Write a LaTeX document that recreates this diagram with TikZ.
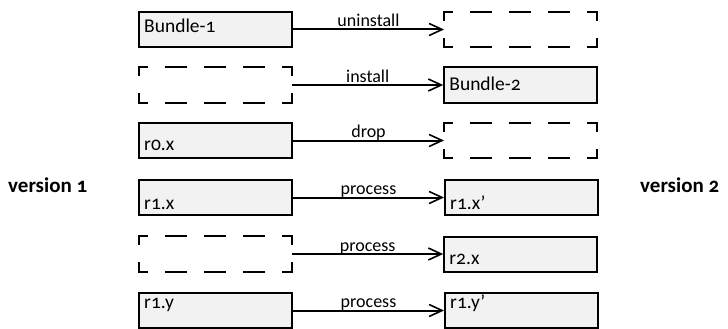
\documentclass[tikz,border=0pt]{standalone}
\usepackage{fontspec}
\setmainfont{Carlito}[Numbers=OldStyle]
\usetikzlibrary{positioning, arrows.meta}

% the four dashed sides of an empty slot
\newcommand{\slotsides}[1]{%
  \draw[slotline] (#1.north west) -- (#1.north east);
  \draw[slotline] (#1.south west) -- (#1.south east);
  \draw[slotline] (#1.north west) -- (#1.south west);
  \draw[slotline] (#1.north east) -- (#1.south east);}

\begin{document}
\begin{tikzpicture}[
        x=1pt, y=-1pt,
        % Define common styles for the boxes and text
        node distance=151pt,
        box/.style={draw, rectangle, line width=2pt, fill=black!5, minimum width=153pt, minimum height=35pt, inner sep=0pt},
        slot/.style={rectangle, minimum width=153pt, minimum height=35pt, inner sep=0pt},
        slotline/.style={line width=2pt, line cap=rect, dash pattern=on 20pt off 19pt, dash phase=12pt},
        boxtext/.style={anchor=base west, inner sep=0pt, font=\fontsize{19.5}{22}\selectfont},
        optext/.style={anchor=base, yshift=3pt, inner sep=0pt, font=\fontsize{18}{20}\selectfont},
        version/.style={anchor=base west, inner sep=0pt, font=\fontsize{21}{24}\selectfont\bfseries},
        arrow/.style={-{Straight Barb[length=13pt, width=12pt, line width=1.6pt]}, line width=2pt}
    ]
    \useasboundingbox (0,0) rectangle (728,329);

        % Old bundle (left column)
        \node[box] (old1) at (215.5,29.5) {};
        \node[slot] (old2) at (215.5,85) {};
        \node[box] (old3) at (215.5,140.5) {};
        \node[box] (old4) at (215.5,197.5) {};
        \node[slot] (old5) at (215.5,254) {};
        \node[box] (old6) at (215.5,310.5) {};

        % New bundle (right column)
        \node[slot, right=of old1] (new1) {};
        \node[box, right=of old2] (new2) {};
        \node[slot, right=of old3] (new3) {};
        \node[box, right=of old4] (new4) {};
        \node[box, right=of old5] (new5) {};
        \node[box, right=of old6] (new6) {};

        % Empty slots
        \slotsides{old2}
        \slotsides{old5}
        \slotsides{new1}
        \slotsides{new3}

        % Texts in the boxes
        \node[boxtext] (told1) at ([shift={(6pt,-22pt)}]old1.north west) {Bundle-1};
        \node[boxtext] (told3) at ([shift={(6pt,-28pt)}]old3.north west) {r0.x};
        \node[boxtext] (told4) at ([shift={(6pt,-30pt)}]old4.north west) {r1.x};
        \node[boxtext] (told6) at ([shift={(6pt,-16pt)}]old6.north west) {r1.y};
        \node[boxtext] (tnew2) at ([shift={(6pt,-24pt)}]new2.north west) {Bundle-2};
        \node[boxtext] (tnew4) at ([shift={(6pt,-30pt)}]new4.north west) {r1.x’};
        \node[boxtext] (tnew5) at ([shift={(6pt,-29pt)}]new5.north west) {r2.x};
        \node[boxtext] (tnew6) at ([shift={(6pt,-16pt)}]new6.north west) {r1.y’};

        % Version labels
        \node[version] (v1) at (8,192) {version 1};
        \node[version] (v2) at (640,192) {version 2};

        % Draw the arrows with labels
        \draw[arrow] (old1) -- node[optext] {uninstall} (new1);
        \draw[arrow] (old2) -- node[optext] {install} (new2);
        \draw[arrow] (old3) -- node[optext] {drop} (new3);
        \draw[arrow] (old4) -- node[optext] {process} (new4);
        \draw[arrow] (old5) -- node[optext] {process} (new5);
        \draw[arrow] (old6) -- node[optext] {process} (new6);

    \end{tikzpicture}
\end{document}
